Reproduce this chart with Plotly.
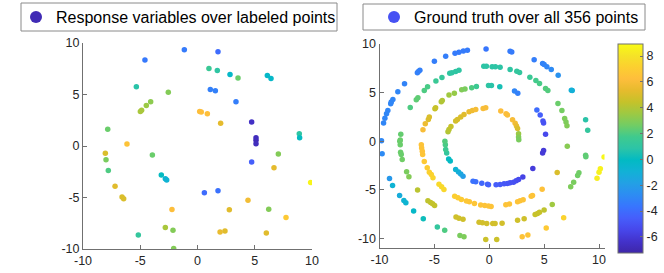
import plotly.graph_objects as go

W, H = 664, 273

# ---------------- data ----------------
# Left: response variables over labeled points
left_x = [5.11, -1.15, 1.79, -4.59, 1.0, 1.73, 2.84, 3.54, 6.1, 6.42, -5.34, -2.55, 1.12, 1.56, 3.36,
          -4.09, -4.47, -4.88, -4.99, 0.19, 0.33, 0.86, 2.02, 4.73, 5.11, 5.11, -7.84, 8.89, 8.92,
          -6.16, -8.05, -7.99, -3.94, 7.06, 4.73, -7.79, 6.68, -3.16, -2.81, -2.69, 9.88, -7.2,
          -6.59, -6.45, 0.6, 1.79, 4.41, -2.23, 2.78, 6.22, 7.73, -5.17, -2.81, -2.14, 1.97, 2.4,
          6.01, -2.08]
left_y = [0.55, 9.35, 9.16, 8.34, 7.53, 7.34, 6.95, 6.59, 6.85, 6.56, 5.75, 5.23, 5.49, 5.36, 4.29,
          4.29, 3.93, 3.47, 3.34, 3.34, 3.31, 3.12, 2.21, 2.34, 0.81, 0.23, 1.62, 1.2, 0.81,
          0.19, -0.71, -1.33, -0.88, -0.78, -1.56, -2.37, -2.11, -2.82, -3.18, -3.31, -3.54, -3.9,
          -4.94, -5.13, -4.55, -4.35, -5.26, -6.17, -6.2, -6.14, -6.95, -8.64, -7.92, -8.18, -8.34, -8.25,
          -8.44, -9.94]
left_v = [-6.9, -3.4, -4.0, -3.5, 1.5, 1.0, -0.3, 2.5, -0.3, -0.3, 0.8, 3.0, -3.2, -3.2, -3.3,
          3.2, 3.5, 3.8, 3.8, 6.2, 6.2, 6.3, 5.3, -6.5, -6.7, -6.7, 2.5, 1.0, 0.0,
          6.5, 5.0, 2.8, 2.5, 3.0, -4.5, 2.0, 5.3, 0.0, -0.8, -0.8, 8.7, 5.2,
          5.0, 5.0, -4.0, -3.8, 5.8, 6.2, 5.2, 3.0, 6.8, 1.2, 3.8, 3.0, 5.5, 5.2,
          5.2, 3.0]

# Right: ground truth over all points (x, y, value)
right_pts = [
    (-0.29, 9.49, -3.6), (-1.99, 9.35, -3.4), (-2.36, 9.28, -3.4), (-2.76, 9.15, -3.4), (-3.12, 9.05, -3.4),
    (-3.97, 8.74, -3.3), (-5.0, 8.22, -3.3), (-6.32, 7.3, -3.2), (-6.45, 7.18, -3.2), (-6.55, 7.05, -3.2),
    (-7.72, 5.9, -3.1), (-8.33, 5.08, -3.0), (-8.78, 4.29, -3.0), (-8.93, 4.02, -3.0), (-8.98, 3.86, -3.0),
    (-9.24, 3.16, -3.0), (-9.36, 2.82, -3.0), (-9.51, 2.36, -3.0), (-9.63, 1.88, -3.0), (-9.82, 0.05, -2.9),
    (-9.76, -1.31, -2.8), (-9.09, -3.85, -2.2), (-8.81, -4.56, -0.8), (-8.17, -5.59, -1.2), (-7.78, -6.1, -0.8),
    (-7.6, -6.34, -0.7), (-6.89, -7.2, -0.3), (-6.01, -7.98, 0.2), (-4.73, -8.84, 1.2), (-4.06, -9.18, 2.0),
    (-2.67, -9.72, 2.8), (-2.3, -9.83, 2.9), (-0.32, -10.12, 4.6), (0.68, -10.13, 4.6), (3.0, -9.83, 6.5),
    (3.52, -9.66, 6.6), (5.19, -8.94, 6.8), (6.78, -7.88, 7.3), (9.82, -3.82, 8.4), (10.0, -3.2, 8.5),
    (10.12, -2.85, 8.6), (10.46, -1.62, 8.8),
    (1.9, 9.25, -3.4), (2.05, 9.18, -3.4), (4.09, 8.39, -3.3), (4.86, 7.98, -3.1), (5.0, 7.88, -3.1),
    (5.25, 7.67, -3.0), (5.65, 7.37, -2.8), (6.28, 6.79, -2.5), (7.56, 5.21, -1.0), (7.48, 5.25, -1.0),
    (8.78, 2.2, 0.8), (8.97, 1.11, 1.2), (8.78, -1.46, 2.3), (8.8, -1.6, 2.3), (8.17, -3.26, 2.6),
    (8.05, -3.54, 2.6), (7.69, -4.23, 2.8), (7.42, -4.7, 2.9), (5.74, -6.51, 3.6), (5.0, -7.1, 4.3),
    (4.58, -7.33, 4.5), (4.4, -7.44, 4.5), (4.18, -7.54, 4.5), (3.18, -7.98, 4.7), (2.58, -8.15, 4.7),
    (1.17, -8.46, 4.8), (0.53, -8.49, 4.8), (0.32, -8.49, 4.8), (-0.23, -8.49, 4.8), (-0.62, -8.39, 4.8),
    (-0.93, -8.36, 4.8), (-2.39, -8.05, 4.7), (-2.76, -7.95, 4.7), (-3.03, -7.81, 4.7), (-4.98, -6.62, 4.4),
    (-5.16, -6.44, 4.4), (-5.34, -6.31, 4.4), (-5.59, -6.13, 4.3), (-6.53, -5.04, 4.2), (-7.32, -3.67, 3.0),
    (-7.53, -3.16, 2.8), (-7.93, -1.9, 2.6), (-8.02, -1.38, 2.5), (-8.08, -1.15, 2.5), (-8.11, -0.36, 2.5),
    (-8.15, -0.02, 2.5), (-8.11, 0.12, 2.5), (-8.06, 0.7, 2.4), (-7.2, 3.47, 2.0), (-6.65, 4.26, 2.3),
    (-6.5, 4.46, 2.3), (-5.92, 5.21, 2.0), (-5.62, 5.6, 1.9), (-4.86, 6.2, 1.5), (-4.31, 6.55, 1.3),
    (-3.6, 6.98, 1.1), (-3.4, 7.03, 1.0), (-3.06, 7.16, 1.0), (-2.76, 7.3, 1.0), (-0.5, 7.71, 0.9),
    (-0.26, 7.71, 0.9), (0.26, 7.67, 0.9), (0.56, 7.67, 0.9), (0.99, 7.61, 0.9), (1.9, 7.37, 1.0),
    (2.51, 7.2, 1.2), (2.76, 7.06, 1.2), (3.7, 6.58, 1.5), (4.25, 6.24, 1.8), (4.58, 5.93, 1.9),
    (5.13, 5.42, 2.1), (5.34, 5.21, 2.1), (6.26, 3.88, 2.5), (6.62, 3.16, 2.7), (6.87, 2.34, 2.9),
    (6.99, 1.97, 2.9), (7.08, 1.59, 3.0), (7.11, -0.53, 3.1), (6.19, -3.23, 5.0), (4.82, -4.94, 6.4),
    (3.94, -5.59, 6.5), (3.82, -5.66, 6.5), (3.09, -6.03, 6.5), (2.81, -6.13, 6.5), (2.58, -6.24, 6.5),
    (1.84, -6.48, 6.5), (1.51, -6.55, 6.5), (0.17, -6.72, 6.5), (-0.07, -6.68, 6.5), (-0.41, -6.62, 6.5),
    (-0.78, -6.58, 6.5), (-1.35, -6.41, 6.6), (-1.81, -6.24, 6.6), (-2.08, -6.17, 6.7), (-2.54, -6.0, 6.9),
    (-2.85, -5.83, 7.0), (-3.15, -5.66, 7.1), (-4.13, -4.97, 7.5), (-4.34, -4.7, 7.6), (-4.58, -4.43, 7.6),
    (-5.13, -3.77, 7.4), (-5.28, -3.44, 7.3), (-5.46, -3.2, 7.2), (-5.65, -2.75, 7.0), (-5.92, -2.1, 6.8),
    (-6.07, -1.38, 6.6), (-6.1, -1.05, 6.5), (-6.16, -0.7, 6.5), (-6.19, -0.36, 6.5), (-6.04, 1.18, 6.0),
    (-5.83, 1.79, 5.6), (-5.55, 2.24, 5.1), (-5.46, 2.48, 5.0), (-4.95, 3.33, 4.5), (-4.89, 3.44, 4.5),
    (-4.37, 4.05, 4.0), (-4.28, 4.18, 4.0), (-3.67, 4.74, 3.6), (-3.18, 4.94, 3.4), (-2.51, 5.28, 3.0),
    (-2.21, 5.38, 2.8), (-1.6, 5.49, 2.0), (-1.17, 5.62, 1.6), (-0.07, 5.72, 1.0), (0.2, 5.72, 0.8),
    (0.96, 5.59, 0.4), (2.3, 5.15, -3.0), (2.6, 4.94, -3.2), (4.34, 3.2, -4.0), (4.64, 2.69, -4.5),
    (4.89, 2.07, -4.9), (4.95, 1.87, -5.0), (5.13, 0.7, -5.4), (4.95, -0.97, -6.0), (4.86, -1.21, -6.0),
    (3.97, -2.82, -5.9), (3.06, -3.68, -5.6), (2.67, -3.95, -5.3), (2.45, -4.08, -5.2), (2.21, -4.23, -5.1),
    (1.9, -4.29, -5.0), (1.66, -4.36, -4.9), (1.35, -4.39, -4.8), (0.99, -4.46, -4.7), (0.62, -4.49, -4.6),
    (-0.07, -4.49, -4.4), (-0.16, -4.43, -4.4), (-0.68, -4.33, -4.2), (-1.23, -4.19, -3.9), (-1.48, -4.12, -3.8),
    (-2.39, -3.61, -2.0), (-2.6, -3.37, -1.6), (-2.8, -3.17, -1.2), (-3.06, -2.92, -0.8), (-3.55, -2.05, -0.2),
    (-3.7, -1.83, 0.0), (-3.88, -1.21, 1.2), (-3.97, -0.87, 1.6), (-4.0, -0.36, 1.9), (-4.04, -0.02, 2.1),
    (-3.76, 0.97, 4.0), (-3.67, 1.21, 4.2), (-3.49, 1.52, 4.5), (-3.06, 2.07, 4.8), (-2.9, 2.24, 4.9),
    (-2.6, 2.48, 5.0), (-2.3, 2.75, 5.2), (-1.84, 3.03, 5.5), (-1.54, 3.16, 5.7), (-1.23, 3.26, 5.9),
    (-0.56, 3.37, 6.0), (-0.32, 3.44, 6.0), (1.05, 3.1, 6.2), (1.53, 2.82, 6.2), (1.66, 2.69, 6.1),
    (2.12, 2.21, 6.0), (2.36, 1.83, 5.8), (2.48, 1.56, 5.5), (2.58, 1.31, 5.0), (2.67, 0.77, 3.5),
    (2.67, 0.43, 3.0), (2.69, 0.15, 2.8),
]
right_x = [p[0] for p in right_pts]
right_y = [p[1] for p in right_pts]
right_v = [p[2] for p in right_pts]

left_label = "Response variables over labeled points"
right_label = "Ground truth over all 356 points"
color_min, color_max = -7.24, 8.93
cbar_ticks = [-6, -4, -2, 0, 2, 4, 6, 8]
axis_ticks = [-10, -5, 0, 5, 10]

# parula (64) subsampled
parula = [
    (0.2422, 0.1504, 0.6603), (0.2647, 0.1978, 0.7952), (0.2803, 0.2782, 0.9221), (0.2760, 0.3667, 0.9829),
    (0.2206, 0.4603, 0.9973), (0.1764, 0.5499, 0.9520), (0.1380, 0.6276, 0.8973), (0.0689, 0.6948, 0.8394),
    (0.0067, 0.7312, 0.7660), (0.1717, 0.7670, 0.6554), (0.2470, 0.7918, 0.5567), (0.4456, 0.8024, 0.3909),
    (0.6174, 0.7876, 0.2612), (0.7738, 0.7598, 0.1646), (0.9035, 0.7330, 0.1774), (0.9956, 0.7434, 0.2371),
    (0.9892, 0.8136, 0.1885), (0.9610, 0.8890, 0.1537), (0.9769, 0.9839, 0.0805),
]
n = len(parula)
colorscale = [[i / (n - 1), "rgb(%d,%d,%d)" % tuple(round(c * 255) for c in rgb)] for i, rgb in enumerate(parula)]


def cmap(v):
    t = (v - color_min) / (color_max - color_min)
    t = min(max(t, 0), 1) * (n - 1)
    i = min(int(t), n - 2)
    f = t - i
    a, b = parula[i], parula[i + 1]
    return "rgb(%d,%d,%d)" % tuple(round((a[k] + (b[k] - a[k]) * f) * 255) for k in range(3))


FONT = "Liberation Sans, Arial, sans-serif"
AX = "#707070"
BOX = "#8a8a8a"

fig = go.Figure()
fig.add_trace(go.Scatter(x=left_x, y=left_y, mode="markers", xaxis="x", yaxis="y", showlegend=False,
                         marker=dict(size=5.5, color=left_v, coloraxis="coloraxis", line=dict(width=0))))
fig.add_trace(go.Scatter(x=right_x, y=right_y, mode="markers", xaxis="x2", yaxis="y2", showlegend=False,
                         marker=dict(size=5.5, color=right_v, coloraxis="coloraxis", line=dict(width=0))))
# legend entries
fig.add_trace(go.Scatter(x=[None], y=[None], mode="markers", xaxis="x", yaxis="y", name=left_label,
                         legend="legend", marker=dict(size=7, color=cmap(left_v[0]))))
fig.add_trace(go.Scatter(x=[None], y=[None], mode="markers", xaxis="x2", yaxis="y2", name=right_label,
                         legend="legend2", marker=dict(size=7, color=cmap(-5.0))))


def px_x(p):
    return p / W


def px_y(p):
    return (H - p) / H


axis_common = dict(showgrid=False, zeroline=False, showline=True, linecolor=AX, linewidth=1,
                   ticks="inside", ticklen=4, tickcolor=AX, tickwidth=1,
                   tickvals=axis_ticks, ticktext=[str(t) for t in axis_ticks],
                   tickfont=dict(family=FONT, size=12.5, color="#262626"), mirror=False)

legend_common = dict(font=dict(family=FONT, size=16, color="#000000"), bgcolor="rgba(0,0,0,0)",
                     borderwidth=0, itemwidth=30, yanchor="top", xanchor="left",
                     xref="container", yref="container", itemsizing="constant", tracegroupgap=0)

# legend frames (pixel positions of the boxes)
shapes = [
    dict(type="rect", xref="paper", yref="paper", x0=px_x(21), x1=px_x(337), y0=px_y(31), y1=px_y(3),
         line=dict(color=BOX, width=1), fillcolor="white", layer="below"),
    dict(type="rect", xref="paper", yref="paper", x0=px_x(363), x1=px_x(645), y0=px_y(30), y1=px_y(4),
         line=dict(color=BOX, width=1), fillcolor="white", layer="below"),
]

fig.update_layout(
    width=W, height=H, margin=dict(l=0, r=0, t=0, b=0, autoexpand=False),
    paper_bgcolor="white", plot_bgcolor="rgba(0,0,0,0)",
    xaxis=dict(domain=[px_x(83), px_x(312)], range=[-10, 10], anchor="y", **axis_common),
    yaxis=dict(domain=[px_y(249), px_y(43)], range=[-10, 10], anchor="x", **axis_common),
    xaxis2=dict(domain=[px_x(379.5), px_x(604.5)], range=[-10, 10.5], anchor="y2", **axis_common),
    yaxis2=dict(domain=[px_y(248), px_y(44)], range=[-11, 10], anchor="x2", **axis_common),
    coloraxis=dict(cmin=color_min, cmax=color_max, colorscale=colorscale,
                   colorbar=dict(x=px_x(618), xanchor="left", xref="container",
                                 y=px_y(253), yanchor="bottom", yref="container",
                                 len=(253 - 44) / H, lenmode="fraction",
                                 thickness=25, thicknessmode="pixels",
                                 outlinecolor=AX, outlinewidth=1,
                                 ticks="inside", ticklen=3, tickcolor=AX,
                                 tickvals=cbar_ticks, ticktext=[str(t) for t in cbar_ticks],
                                 tickfont=dict(family=FONT, size=12.5, color="#262626"),
                                 xpad=0, ypad=0)),
    legend=dict(x=px_x(16), y=px_y(-2), **legend_common),
    legend2=dict(x=px_x(374), y=px_y(-2), **legend_common),
    shapes=shapes,
    showlegend=True,
)

fig.write_html("out.html",
               config={"displayModeBar": False},
               post_script="document.body.style.margin='0';document.body.style.padding='0';"
                           "document.body.style.overflow='hidden';")
